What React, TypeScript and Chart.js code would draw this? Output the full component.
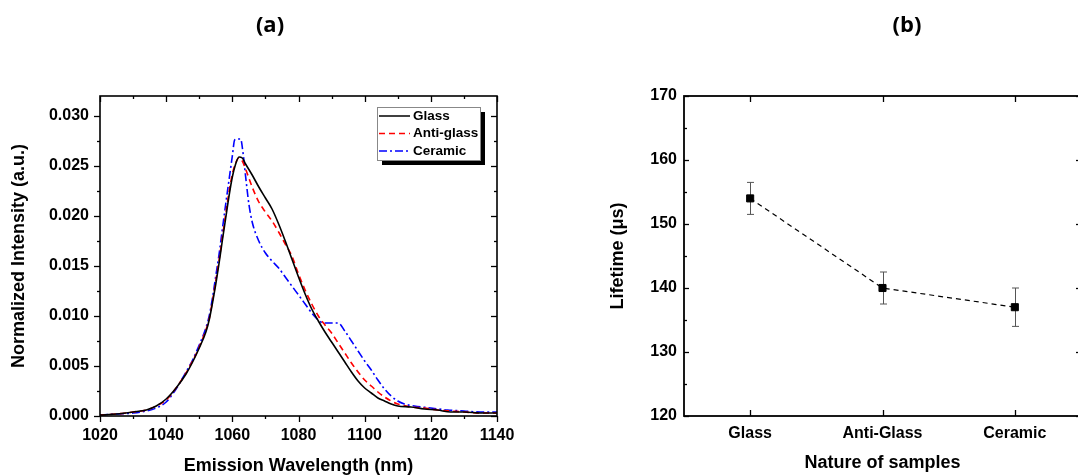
import React, { useEffect, useRef } from "react";
import { Chart, registerables } from "chart.js";

Chart.register(...registerables);

// ---------- Panel (a): emission spectra ----------
const wavelengthTicks = [1020, 1040, 1060, 1080, 1100, 1120, 1140];
const wavelengthMinor = [1030, 1050, 1070, 1090, 1110, 1130];
const intensityTicks = [0, 0.005, 0.01, 0.015, 0.02, 0.025, 0.03];
const intensityMinor = [0.0025, 0.0075, 0.0125, 0.0175, 0.0225, 0.0275];

const glassWl = [1020, 1025, 1030, 1034, 1037, 1040, 1043, 1046, 1048, 1050, 1052, 1053, 1054, 1055, 1056, 1057, 1058, 1059, 1060, 1061, 1062, 1063, 1064, 1066, 1068, 1070, 1072, 1074, 1076, 1078, 1080, 1082, 1084, 1086, 1088, 1090, 1092, 1094, 1096, 1098, 1100, 1102, 1104, 1106, 1108, 1110, 1114, 1118, 1122, 1126, 1130, 1135, 1140];
const glassInt = [0.0001, 0.0002, 0.0004, 0.0006, 0.0010, 0.0017, 0.0028, 0.0042, 0.0054, 0.0068, 0.0084, 0.0096, 0.0113, 0.0132, 0.0153, 0.0176, 0.0198, 0.0220, 0.0239, 0.0252, 0.0259, 0.0258, 0.0252, 0.0241, 0.0229, 0.0218, 0.0207, 0.0192, 0.0175, 0.0157, 0.0139, 0.0122, 0.0107, 0.0095, 0.0084, 0.0074, 0.0064, 0.0054, 0.0044, 0.0035, 0.0028, 0.0023, 0.0018, 0.0015, 0.0012, 0.0010, 0.0009, 0.0007, 0.0006, 0.0004, 0.0004, 0.0003, 0.0003];

const antiWl = [1020, 1025, 1030, 1034, 1037, 1040, 1043, 1046, 1048, 1050, 1052, 1053, 1054, 1055, 1056, 1057, 1058, 1059, 1060, 1061, 1062, 1063, 1064, 1066, 1068, 1070, 1072, 1074, 1076, 1078, 1080, 1082, 1084, 1086, 1088, 1090, 1092, 1094, 1096, 1098, 1100, 1102, 1104, 1106, 1108, 1110, 1114, 1118, 1122, 1126, 1130, 1135, 1140];
const antiInt = [0.0001, 0.0002, 0.0004, 0.0006, 0.0010, 0.0016, 0.0028, 0.0043, 0.0055, 0.0069, 0.0086, 0.0097, 0.0115, 0.0135, 0.0156, 0.0179, 0.0202, 0.0224, 0.0242, 0.0253, 0.0258, 0.0255, 0.0247, 0.0229, 0.0214, 0.0204, 0.0195, 0.0184, 0.0172, 0.0160, 0.0142, 0.0126, 0.0112, 0.0100, 0.0091, 0.0083, 0.0073, 0.0063, 0.0053, 0.0044, 0.0036, 0.0030, 0.0024, 0.0019, 0.0015, 0.0012, 0.0009, 0.0008, 0.0006, 0.0005, 0.0004, 0.0003, 0.0003];

const ceramicWl = [1020, 1025, 1030, 1034, 1037, 1040, 1043, 1046, 1048, 1050, 1052, 1053, 1054, 1055, 1056, 1057, 1058, 1059, 1060, 1060.7, 1061.5, 1062.5, 1063.2, 1064, 1065, 1066, 1068, 1070, 1072, 1074, 1076, 1078, 1080, 1082, 1084, 1086, 1087.5, 1090, 1092, 1094, 1096, 1098, 1100, 1102, 1104, 1106, 1108, 1110, 1112, 1115, 1120, 1125, 1130, 1135, 1140];
const ceramicInt = [0.0001, 0.0002, 0.0003, 0.0005, 0.0008, 0.0014, 0.0027, 0.0044, 0.0056, 0.0071, 0.0088, 0.0100, 0.0118, 0.0140, 0.0162, 0.0187, 0.0212, 0.0236, 0.0260, 0.0276, 0.0277, 0.0277, 0.0264, 0.0240, 0.0212, 0.0194, 0.0175, 0.0163, 0.0155, 0.0148, 0.0139, 0.0130, 0.0121, 0.0112, 0.0103, 0.0096, 0.0093, 0.0093, 0.0093, 0.0085, 0.0075, 0.0065, 0.0055, 0.0046, 0.0036, 0.0027, 0.0020, 0.0015, 0.0012, 0.0010, 0.0008, 0.0006, 0.0005, 0.0004, 0.0004];

const seriesNames = ["Glass", "Anti-glass", "Ceramic"];

// ---------- Panel (b): lifetimes ----------
const sampleNames = ["Glass", "Anti-Glass", "Ceramic"];
const lifetimes = [154, 140, 137];
const lifetimeErrors = [2.5, 2.5, 3];
const lifetimeTicks = [120, 130, 140, 150, 160, 170];
const lifetimeMinor = [125, 135, 145, 155, 165];

const FONT = "'Liberation Sans', Arial, sans-serif";

const toPoints = (xs: number[], ys: number[]) => xs.map((x, i) => ({ x, y: ys[i] }));

// Frame + tick marks plugin (len > 0: outward, len < 0: inward)
const frameTicks = {
  id: "frameTicks",
  afterDraw(chart: any, _args: any, opts: any) {
    const { ctx, chartArea: a } = chart;
    ctx.save();
    ctx.strokeStyle = "#000";
    ctx.lineWidth = opts.tickWidth || 1.3;
    for (const spec of opts.specs || []) {
      const scale = chart.scales[spec.scale];
      for (const v of spec.values) {
        const p = Math.round(scale.getPixelForValue(v)) + 0.5;
        const len = spec.len;
        ctx.beginPath();
        if (spec.side === "bottom") { ctx.moveTo(p, a.bottom); ctx.lineTo(p, a.bottom + len); }
        if (spec.side === "top") { ctx.moveTo(p, a.top); ctx.lineTo(p, a.top - len); }
        if (spec.side === "left") { ctx.moveTo(a.left, p); ctx.lineTo(a.left - len, p); }
        if (spec.side === "right") { ctx.moveTo(a.right, p); ctx.lineTo(a.right + len, p); }
        ctx.stroke();
      }
    }
    ctx.lineWidth = opts.frameWidth || 1.6;
    ctx.strokeRect(a.left, a.top, a.right - a.left, a.bottom - a.top);
    ctx.restore();
  },
};

const panelTitle = {
  id: "panelTitle",
  afterDraw(chart: any, _args: any, opts: any) {
    const { ctx } = chart;
    ctx.save();
    ctx.font = "bold 22px 'Open Sans', sans-serif";
    ctx.fillStyle = "#000";
    ctx.textAlign = "center";
    ctx.textBaseline = "middle";
    ctx.fillText(opts.text, opts.x, opts.y);
    ctx.restore();
  },
};

const boxLegend = {
  id: "boxLegend",
  afterDraw(chart: any) {
    const { ctx, chartArea: a } = chart;
    const right = a.right - 17;
    const top = a.top + 11;
    const w = 103;
    const h = 53;
    const left = right - w;
    ctx.save();
    ctx.fillStyle = "#000";
    ctx.fillRect(left + 5, top + 5, w, h);
    ctx.fillStyle = "#fff";
    ctx.fillRect(left, top, w, h);
    ctx.strokeStyle = "#888";
    ctx.lineWidth = 1;
    ctx.strokeRect(left + 0.5, top + 0.5, w, h);
    ctx.font = `bold 13.5px ${FONT}`;
    ctx.textBaseline = "middle";
    ctx.textAlign = "left";
    chart.data.datasets.forEach((ds: any, i: number) => {
      const y = top + 9 + i * 17.5;
      ctx.strokeStyle = ds.borderColor;
      ctx.lineWidth = 1.5;
      ctx.setLineDash(ds.borderDash || []);
      ctx.beginPath();
      ctx.moveTo(left + 2, y);
      ctx.lineTo(left + 33, y);
      ctx.stroke();
      ctx.setLineDash([]);
      ctx.fillStyle = "#000";
      ctx.fillText(ds.label, left + 36, y);
    });
    ctx.restore();
  },
};

const errorBars = {
  id: "errorBars",
  beforeDatasetsDraw(chart: any, _args: any, opts: any) {
    const { ctx } = chart;
    const xs = chart.scales.x;
    const ys = chart.scales.y;
    ctx.save();
    ctx.strokeStyle = "#555";
    ctx.lineWidth = 1;
    opts.values.forEach((v: number, i: number) => {
      const e = opts.errors[i];
      const x = Math.round(xs.getPixelForValue(i)) + 0.5;
      const y1 = ys.getPixelForValue(v + e);
      const y2 = ys.getPixelForValue(v - e);
      ctx.beginPath();
      ctx.moveTo(x, y1); ctx.lineTo(x, y2);
      ctx.moveTo(x - 3.5, y1); ctx.lineTo(x + 3.5, y1);
      ctx.moveTo(x - 3.5, y2); ctx.lineTo(x + 3.5, y2);
      ctx.stroke();
    });
    ctx.restore();
  },
};

const tickFont = { family: FONT, size: 16, weight: "bold" as const };
const titleFont = { family: FONT, size: 18, weight: "bold" as const };

function SpectraChart() {
  const ref = useRef<HTMLCanvasElement | null>(null);
  useEffect(() => {
    if (!ref.current) return;
    const chart = new Chart(ref.current, {
      type: "line",
      data: {
        datasets: [
          { label: seriesNames[0], data: toPoints(glassWl, glassInt), borderColor: "#000000", borderWidth: 1.6, pointRadius: 0, cubicInterpolationMode: "monotone" },
          { label: seriesNames[1], data: toPoints(antiWl, antiInt), borderColor: "#ff0000", borderWidth: 1.6, borderDash: [6, 4], pointRadius: 0, cubicInterpolationMode: "monotone" },
          { label: seriesNames[2], data: toPoints(ceramicWl, ceramicInt), borderColor: "#0000ff", borderWidth: 1.6, borderDash: [8, 3, 2, 3], pointRadius: 0, cubicInterpolationMode: "monotone" },
        ],
      },
      options: {
        animation: false,
        responsive: false,
        maintainAspectRatio: false,
        layout: { padding: { top: 96, right: 43, left: 0, bottom: 0 } },
        plugins: {
          legend: { display: false },
          tooltip: { enabled: false },
          panelTitle: { text: "(a)", x: 270, y: 26 },
          frameTicks: {
            specs: [
              { scale: "x", side: "bottom", values: wavelengthTicks, len: 6 },
              { scale: "x", side: "bottom", values: wavelengthMinor, len: 3 },
              { scale: "x", side: "top", values: wavelengthTicks, len: -6 },
              { scale: "x", side: "top", values: wavelengthMinor, len: -3 },
              { scale: "y", side: "left", values: intensityTicks, len: 6 },
              { scale: "y", side: "left", values: intensityMinor, len: 3 },
              { scale: "y", side: "right", values: intensityTicks, len: -6 },
              { scale: "y", side: "right", values: intensityMinor, len: -3 },
            ],
          },
        } as any,
        scales: {
          x: {
            type: "linear",
            min: 1020,
            max: 1140,
            afterBuildTicks: (s: any) => { s.ticks = wavelengthTicks.map((value) => ({ value })); },
            afterFit: (s: any) => { s.height = 59; },
            grid: { display: false, drawTicks: false },
            border: { display: false },
            ticks: { padding: 10, color: "#000", font: tickFont, autoSkip: false, maxRotation: 0, callback: (v: any) => String(v) },
            title: { display: true, text: "Emission Wavelength (nm)", color: "#000", font: { ...titleFont, lineHeight: 1 }, padding: { top: 0, bottom: 0 } },
          },
          y: {
            type: "linear",
            min: 0,
            max: 0.032,
            afterBuildTicks: (s: any) => { s.ticks = intensityTicks.map((value) => ({ value })); },
            afterFit: (s: any) => { s.width = 100; },
            grid: { display: false, drawTicks: false },
            border: { display: false },
            ticks: { padding: 11, color: "#000", font: tickFont, callback: (v: any) => Number(v).toFixed(3) },
            title: { display: true, text: "Normalized Intensity (a.u.)", color: "#000", font: titleFont, padding: { top: 8, bottom: 0 } },
          },
        },
      },
      plugins: [frameTicks, panelTitle, boxLegend],
    });
    return () => chart.destroy();
  }, []);
  return <canvas ref={ref} width={540} height={475} style={{ position: "absolute", left: 0, top: 0, width: 540, height: 475 }} />;
}

function LifetimeChart() {
  const ref = useRef<HTMLCanvasElement | null>(null);
  useEffect(() => {
    if (!ref.current) return;
    const chart = new Chart(ref.current, {
      type: "line",
      data: {
        labels: sampleNames,
        datasets: [
          {
            label: "Lifetime",
            data: lifetimes,
            borderColor: "#000",
            borderWidth: 1.2,
            borderDash: [5, 4],
            pointStyle: "rect",
            pointRadius: 5,
            pointBorderWidth: 1,
            pointBackgroundColor: "#000",
            pointBorderColor: "#000",
            tension: 0,
          },
        ],
      },
      options: {
        animation: false,
        responsive: false,
        maintainAspectRatio: false,
        layout: { padding: { top: 96, right: 19, left: 0, bottom: 0 } },
        plugins: {
          legend: { display: false },
          tooltip: { enabled: false },
          panelTitle: { text: "(b)", x: 347, y: 26 },
          errorBars: { values: lifetimes, errors: lifetimeErrors },
          frameTicks: {
            frameWidth: 1.8,
            specs: [
              { scale: "x", side: "bottom", values: [0, 1, 2], len: -6 },
              { scale: "x", side: "top", values: [0, 1, 2], len: -6 },
              { scale: "y", side: "left", values: lifetimeTicks, len: -5 },
              { scale: "y", side: "left", values: lifetimeMinor, len: -3 },
              { scale: "y", side: "right", values: lifetimeTicks, len: -5 },
              { scale: "y", side: "right", values: lifetimeMinor, len: -3 },
            ],
          },
        } as any,
        scales: {
          x: {
            type: "category",
            offset: true,
            afterFit: (s: any) => { s.height = 59; },
            grid: { display: false, drawTicks: false },
            border: { display: false },
            ticks: { padding: 8, color: "#000", font: tickFont, autoSkip: false, maxRotation: 0 },
            title: { display: true, text: "Nature of samples", color: "#000", font: { ...titleFont, lineHeight: 1 }, padding: { top: 0, bottom: 3 } },
          },
          y: {
            type: "linear",
            min: 120,
            max: 170,
            afterBuildTicks: (s: any) => { s.ticks = lifetimeTicks.map((value) => ({ value })); },
            afterFit: (s: any) => { s.width = 124; },
            grid: { display: false, drawTicks: false },
            border: { display: false },
            ticks: { padding: 7, color: "#000", font: tickFont, callback: (v: any) => String(v) },
            title: { display: true, text: "Lifetime (μs)", color: "#000", font: titleFont, padding: { top: 47, bottom: 0 } },
          },
        },
      },
      plugins: [frameTicks, panelTitle, errorBars],
    });
    return () => chart.destroy();
  }, []);
  return <canvas ref={ref} width={540} height={475} style={{ position: "absolute", left: 560, top: 0, width: 540, height: 475 }} />;
}

export default function App() {
  return (
    <div style={{ position: "fixed", left: 0, top: 0, width: 1078, height: 475, overflow: "hidden", background: "#fff" }}>
      <SpectraChart />
      <LifetimeChart />
    </div>
  );
}
